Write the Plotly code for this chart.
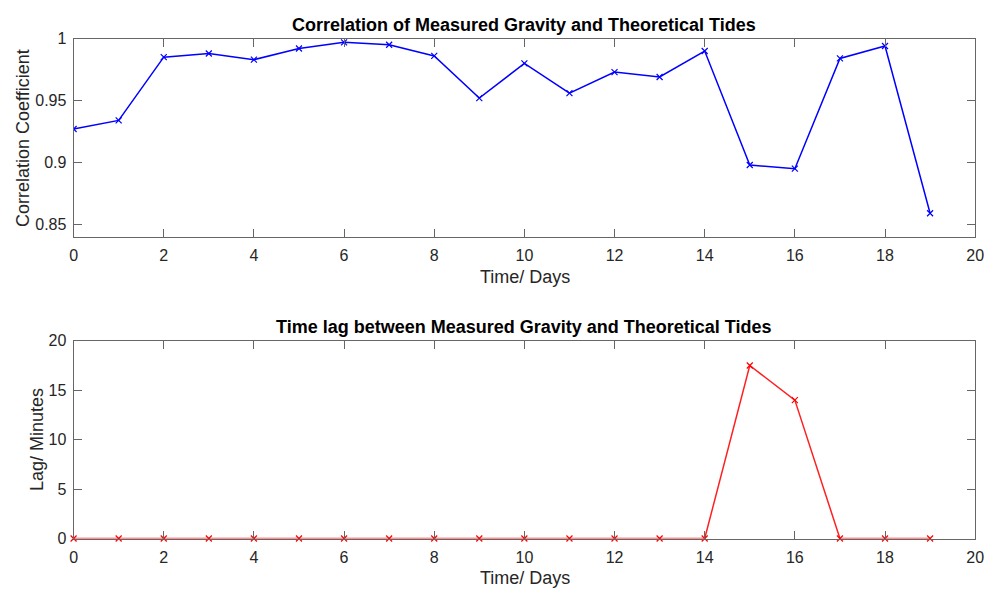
import plotly.graph_objects as go

days = list(range(20))
correlation = [0.927, 0.934, 0.985, 0.988, 0.983, 0.992, 0.997, 0.995, 0.986, 0.952,
               0.980, 0.956, 0.973, 0.969, 0.990, 0.898, 0.895, 0.984, 0.994, 0.859]
lag_minutes = [0, 0, 0, 0, 0, 0, 0, 0, 0, 0, 0, 0, 0, 0, 0, 17.5, 14, 0, 0, 0]

x_ticks = [0, 2, 4, 6, 8, 10, 12, 14, 16, 18, 20]
corr_ticks = [0.85, 0.9, 0.95, 1]
corr_tick_text = ["0.85", "0.9", "0.95", "1"]
lag_ticks = [0, 5, 10, 15, 20]

W, H = 997, 600
FONT = "Arial, Liberation Sans, Helvetica, sans-serif"
TXT = "#262626"
AX = "#666666"

fig = go.Figure()
fig.add_trace(go.Scatter(x=days, y=correlation, mode="lines+markers",
                         line=dict(color="#0000ff", width=1.5),
                         marker=dict(symbol="x-thin", size=6, line=dict(color="#0000ff", width=1.2)),
                         xaxis="x", yaxis="y", showlegend=False))
fig.add_trace(go.Scatter(x=days, y=lag_minutes, mode="lines+markers",
                         line=dict(color="#ff2020", width=1.5),
                         marker=dict(symbol="x-thin", size=6, line=dict(color="#ff0000", width=1.2)),
                         xaxis="x2", yaxis="y2", showlegend=False, cliponaxis=False))

def px_x(p):
    return p / W

def px_y(p):
    return 1 - p / H

common_x = dict(range=[0, 20], tickvals=x_ticks, ticks="inside", ticklen=8, tickcolor=AX,
                showline=True, linecolor=AX, linewidth=1, mirror="ticks", showgrid=False,
                zeroline=False, tickfont=dict(family=FONT, size=16, color=TXT),
                ticklabelstandoff=4, domain=[px_x(70.5), px_x(984)])
common_y = dict(ticks="inside", ticklen=8, tickcolor=AX, showline=True, linecolor=AX,
                linewidth=1, mirror="ticks", showgrid=False, zeroline=False,
                ticklabelstandoff=3, tickfont=dict(family=FONT, size=16, color=TXT))

fig.update_layout(
    autosize=True, margin=dict(l=0, r=0, t=0, b=0),
    paper_bgcolor="white", plot_bgcolor="white",
    xaxis=dict(anchor="y", **common_x),
    yaxis=dict(anchor="x", range=[0.84, 1], tickvals=corr_ticks, ticktext=corr_tick_text,
               domain=[px_y(235.5), px_y(31.5)], **common_y),
    xaxis2=dict(anchor="y2", **common_x),
    yaxis2=dict(anchor="x2", range=[0, 20], tickvals=lag_ticks,
                domain=[px_y(546), px_y(342.5)], **common_y),
)

ann = [
    dict(text="<b>Correlation of Measured Gravity and Theoretical Tides</b>", x=527, y=17, size=18, color="#000000", angle=0),
    dict(text="Time/ Days", x=528, y=277, size=18, color=TXT, angle=0),
    dict(text="Correlation Coefficient", x=19, y=134, size=18, color=TXT, angle=-90),
    dict(text="<b>Time lag between Measured Gravity and Theoretical Tides</b>", x=527, y=328, size=18, color="#000000", angle=0),
    dict(text="Time/ Days", x=528, y=587, size=18, color=TXT, angle=0),
    dict(text="Lag/ Minutes", x=34, y=444, size=18, color=TXT, angle=-90),
]
for a in ann:
    fig.add_annotation(text=a["text"], x=px_x(a["x"]), y=px_y(a["y"]), xref="paper", yref="paper",
                       xanchor="center", yanchor="middle", showarrow=False, textangle=a["angle"],
                       font=dict(family=FONT, size=a["size"], color=a["color"]))

post = ("document.documentElement.style.margin='0';document.body.style.margin='0';"
        "document.documentElement.style.overflow='hidden';document.body.style.overflow='hidden';"
        "var gd=document.getElementById('{plot_id}');Plotly.Plots.resize(gd);")
fig.write_html("out.html", config={"displayModeBar": False, "responsive": True},
               default_width="100vw", default_height="100vh", post_script=post)
